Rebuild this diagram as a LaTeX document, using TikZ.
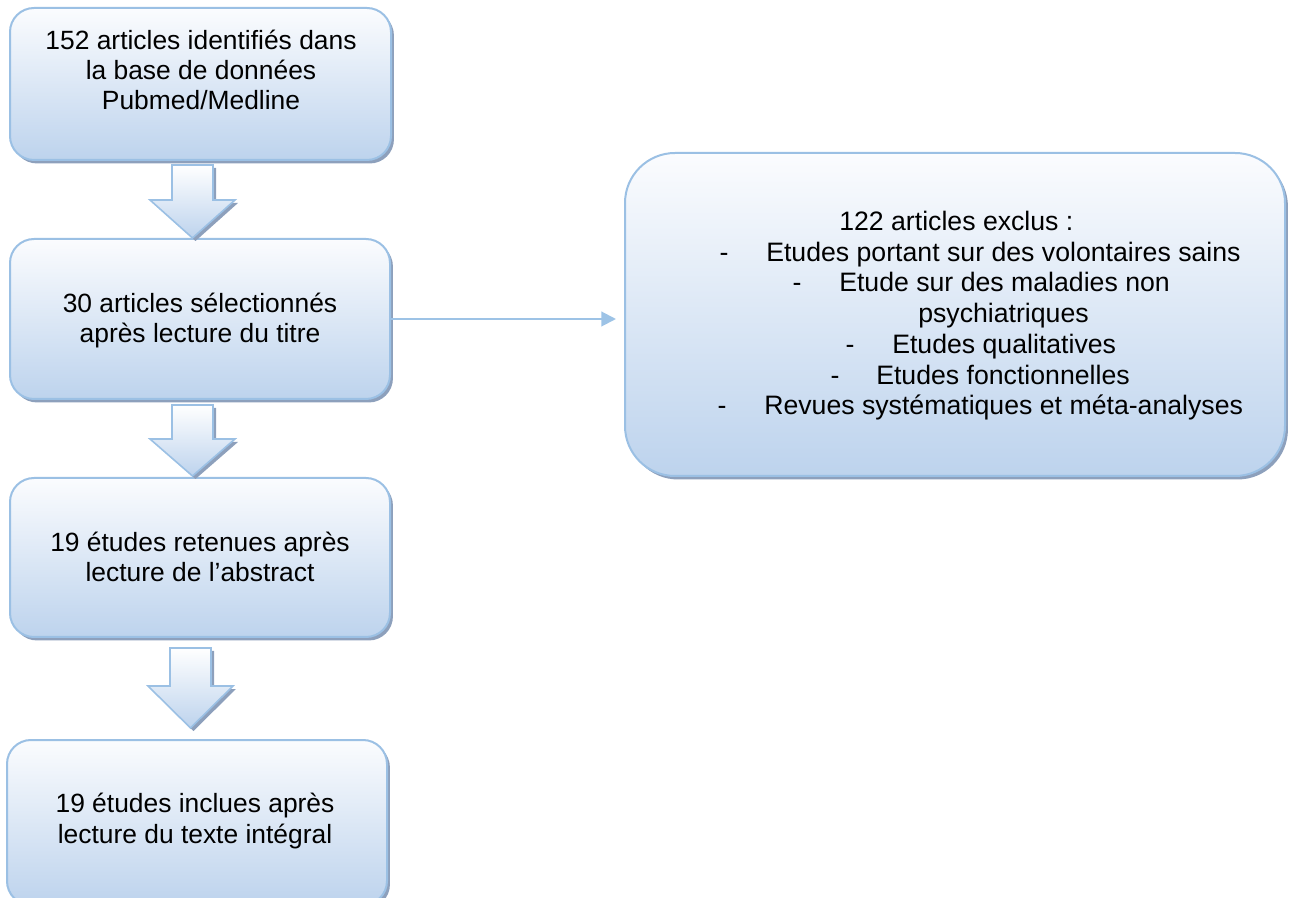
\documentclass[tikz,border=0pt]{standalone}
\usepackage{fontspec}
\setmainfont{Liberation Sans}
\newfontfamily\lfont{Liberation Sans}
\newfontfamily\rfont{Liberation Sans}
\usetikzlibrary{shadows,arrows.meta,calc}
\definecolor{bordc}{RGB}{155,192,228}
\definecolor{topc}{RGB}{251,252,254}
\definecolor{botc}{RGB}{189,211,237}
\definecolor{shadc}{RGB}{141,160,188}
\definecolor{connc}{RGB}{157,195,230}
\tikzset{
  x=0.75pt, y=-0.75pt,
  box/.style={draw=bordc, line width=1.5pt, rounded corners=18pt, top color=topc, bottom color=botc,
    inner sep=0pt, drop shadow={shadow xshift=2.2pt, shadow yshift=-2.6pt, fill=shadc, opacity=1}},
  bigbox/.style={box, rounded corners=37.5pt},
  ltxt/.style={font=\lfont\fontsize{19.8pt}{22.5pt}\selectfont, anchor=base, inner sep=0pt},
  rtxt/.style={font=\rfont\fontsize{20pt}{23pt}\selectfont, anchor=base west, inner sep=0pt},
  rdash/.style={font=\rfont\fontsize{20pt}{23pt}\selectfont, anchor=base, inner sep=0pt},
  conn/.style={draw=connc, line width=1.5pt, -{Triangle[length=11pt,width=11pt]}, shorten >=6pt},
  arrowbody/.style={draw=bordc, line width=1.2pt, line join=miter, top color=white, bottom color=botc},
  arrowshadow/.style={fill=shadc, shift={(3,3)}}
}
% block arrow: cx, ytop, yhead, ytip
\newcommand\bkarrow[4]{%
  \fill[arrowshadow] ({#1-20.5},#2) -- ({#1+20.5},#2) -- ({#1+20.5},#3) -- ({#1+42.5},#3) -- (#1,#4) -- ({#1-42.5},#3) -- ({#1-20.5},#3) -- cycle;
  \path[arrowbody] ({#1-20.5},#2) -- ({#1+20.5},#2) -- ({#1+20.5},#3) -- ({#1+42.5},#3) -- (#1,#4) -- ({#1-42.5},#3) -- ({#1-20.5},#3) -- cycle;
}
\begin{document}
\begin{tikzpicture}
\useasboundingbox (0,0) rectangle (1290,898);
\clip (0,0) rectangle (1290,898);

% boxes
\node[box, minimum width=285.75pt, minimum height=114pt] (b1) at (200.5,84) {};
\node[box, minimum width=285pt, minimum height=120pt] (b2) at (200,319) {};
\node[box, minimum width=285pt, minimum height=119.25pt] (b3) at (200,557.5) {};
\node[box, minimum width=285pt, minimum height=123.75pt] (b4) at (197,822.5) {};
\node[bigbox, minimum width=495pt, minimum height=242.25pt] (R) at (955,314.5) {};

% block arrows
\bkarrow{192.5}{165}{200}{238}
\bkarrow{192.5}{405}{439}{476}
\bkarrow{190.5}{648}{686}{728}

% connector
\draw[conn] (b2.east) -- (b2.east -| R.west);

% left texts
\node[ltxt] (t11) at (201,50) {152 articles identifiés dans};
\node[ltxt] (t12) at (201,80) {la base de données};
\node[ltxt] (t13) at (201,110) {Pubmed/Medline};
\node[ltxt] (t21) at (200,313) {30 articles sélectionnés};
\node[ltxt] (t22) at (200,343) {après lecture du titre};
\node[ltxt] (t31) at (200,552) {19 études retenues après};
\node[ltxt] (t32) at (200,582) {lecture de l’abstract};
\node[ltxt] (t41) at (195,812) {19 études inclues après};
\node[ltxt] (t42) at (195,843) {lecture du texte intégral};

% right texts
\node[rtxt] (r0) at (839,231) {122 articles exclus :};
\node[rdash] (d1) at (724,262) {-};
\node[rtxt] (r1) at (766,262) {Etudes portant sur des volontaires sains};
\node[rdash] (d2) at (797,292) {-};
\node[rtxt] (r2) at (839,292) {Etude sur des maladies non};
\node[rtxt] (r2b) at (918,323) {psychiatriques};
\node[rdash] (d3) at (850,354) {-};
\node[rtxt] (r3) at (892,354) {Etudes qualitatives};
\node[rdash] (d4) at (835,385) {-};
\node[rtxt] (r4) at (876,385) {Etudes fonctionnelles};
\node[rdash] (d5) at (722,415) {-};
\node[rtxt] (r5) at (764,415) {Revues systématiques et méta-analyses};
\end{tikzpicture}
\end{document}
